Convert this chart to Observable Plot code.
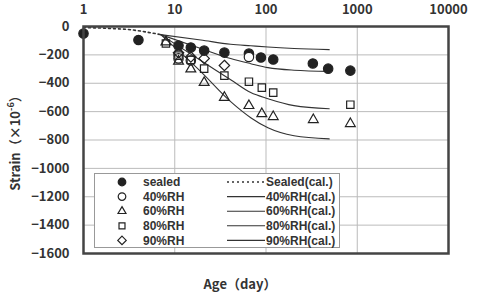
<!DOCTYPE html>
<html><head><meta charset="utf-8">
<script src="https://cdn.jsdelivr.net/npm/d3@7"></script>
<script src="https://cdn.jsdelivr.net/npm/@observablehq/plot@0.6"></script>
<style>
body{margin:0;background:#fff;}
#wrap{position:relative;width:487px;height:292px;font-family:"Noto Sans CJK JP","Noto Sans",sans-serif;color:#333;}
#ylab{position:absolute;left:14px;top:140px;transform:translate(-50%,-50%) rotate(-90deg);white-space:nowrap;font-size:13px;font-weight:bold;}
#xlab{position:absolute;left:240px;top:283px;transform:translate(-50%,-50%);white-space:nowrap;font-size:13px;font-weight:bold;}
#legend{position:absolute;left:94px;top:173px;}
</style></head>
<body><div id="wrap"><div id="chart"></div><div id="ylab">Strain（×10<sup style="font-size:9px">-6</sup>）</div><div id="xlab">Age（day）</div><div id="legend"></div></div>
<script>
// measured data
const sealedAge = [1,4,11,15,21,35,65,88,120,326,480,840];
const sealedStrain = [-50,-95,-134,-148,-170,-184,-191,-219,-233,-261,-297,-311];
const rh40Age = [11,11,15,65];
const rh40Strain = [-200,-225,-240,-215];
const rh60Age = [8,11,15,21,35,65,90,120,330,840];
const rh60Strain = [-110,-245,-300,-395,-500,-558,-615,-636,-657,-685];
const rh80Age = [8,11,15,21,35,65,90,120,840];
const rh80Strain = [-120,-205,-235,-297,-346,-389,-431,-466,-551];
const rh90Age = [11,15,21,35];
const rh90Strain = [-185,-215,-225,-275];
// calculated curves
const sealedCalAge = [1,2,3.5,5,7];
const sealedCalStrain = [-8,-14,-25,-40,-57];
const calAge = [7,19.3,41,68,105,203,493];
const cal90 = [-57,-95,-125,-136,-145,-155,-163];
const cal40 = [-57,-155,-226,-262,-290,-308,-316];
const cal80 = [-57,-240,-375,-466,-509,-558,-580];
const cal60 = [-57,-318,-530,-643,-714,-770,-792];
const xTicks = [1,10,100,1000,10000];
const yTicks = d3.range(-1600, 1, 200);

const zip = (a, b) => a.map((x, i) => ({x, y: b[i]}));
const series = [
  {label:"sealed", symbol:"circle", fill:"#222", data: zip(sealedAge, sealedStrain)},
  {label:"40%RH", symbol:"circle", fill:"white", data: zip(rh40Age, rh40Strain)},
  {label:"60%RH", symbol:"triangle2", fill:"none", data: zip(rh60Age, rh60Strain)},
  {label:"80%RH", symbol:"square2", fill:"none", data: zip(rh80Age, rh80Strain)},
  {label:"90%RH", symbol:"diamond2", fill:"none", data: zip(rh90Age, rh90Strain)}
];
const curves = [
  {label:"Sealed(cal.)", dash:"2,3", data: zip(sealedCalAge, sealedCalStrain)},
  {label:"40%RH(cal.)", dash:null, data: zip(calAge, cal40)},
  {label:"60%RH(cal.)", dash:null, data: zip(calAge, cal60)},
  {label:"80%RH(cal.)", dash:null, data: zip(calAge, cal80)},
  {label:"90%RH(cal.)", dash:null, data: zip(calAge, cal90)}
];

const marks = [
  Plot.ruleY(yTicks.slice(1, -1), {stroke:"#bbb", strokeWidth:1}),
  Plot.ruleX([10,100,1000], {stroke:"#bbb", strokeWidth:1}),
  Plot.axisX({anchor:"top", ticks:xTicks, tickSize:0, tickPadding:13, tickFormat:d=>String(d), fontSize:13, fontWeight:"bold", label:null}),
  Plot.axisY({ticks:yTicks, tickSize:0, tickPadding:14, tickFormat:d=>d===0?"0":"−"+Math.abs(d), fontSize:13, fontWeight:"bold", label:null}),
];
curves.forEach(c => marks.push(Plot.line(c.data, {x:"x", y:"y", stroke:"#333", strokeWidth: c.dash ? 1.6 : 1.1, strokeDasharray:c.dash, curve:"monotone-x"})));
series.forEach(s => marks.push(Plot.dot(s.data, {x:"x", y:"y", symbol:()=>s.symbol, r:4.7, fill:s.fill, stroke:"#222", strokeWidth:1.2})));
marks.push(Plot.frame({stroke:"#444", strokeWidth:2.5}));

const chart = Plot.plot({
  width:487, height:292,
  marginLeft:83, marginRight:39, marginTop:26, marginBottom:39,
  style:{fontFamily:"'Noto Sans CJK JP','Noto Sans',sans-serif", color:"#333", background:"white"},
  x:{type:"log", domain:[1,10000], axis:null},
  y:{domain:[-1600,0], axis:null},
  symbol:{type:"identity"},
  marks
});
document.getElementById("chart").appendChild(chart);

// legend
const lw = 246, lh = 75, rowH = 14.6;
const lg = d3.select("#legend").append("svg").attr("width", lw).attr("height", lh)
  .style("font-family","'Liberation Sans',Arial,sans-serif").style("font-size","12px").style("font-weight","bold");
lg.append("rect").attr("x",0.5).attr("y",0.5).attr("width",lw-1).attr("height",lh-1).attr("fill","white").attr("stroke","#999");
const symMap = {circle:d3.symbolCircle, triangle2:d3.symbolTriangle2, square2:d3.symbolSquare2, diamond2:d3.symbolDiamond2};
series.forEach((s, i) => {
  const cy = 9 + i*rowH;
  const r = 3.8;
  lg.append("path").attr("d", d3.symbol(symMap[s.symbol], Math.PI*r*r)()).attr("transform",`translate(28,${cy})`)
    .attr("fill", s.fill === "none" ? "none" : s.fill).attr("stroke","#222").attr("stroke-width",1.2);
  lg.append("text").attr("x",49).attr("y",cy).attr("dy","0.35em").attr("fill","#333").text(s.label);
});
curves.forEach((c, i) => {
  const cy = 9 + i*rowH;
  lg.append("line").attr("x1",133).attr("x2",171).attr("y1",cy).attr("y2",cy).attr("stroke","#333")
    .attr("stroke-width", c.dash ? 1.5 : 1.1).attr("stroke-dasharray", c.dash);
  lg.append("text").attr("x",172).attr("y",cy).attr("dy","0.35em").attr("fill","#333").text(c.label);
});
</script></body></html>
